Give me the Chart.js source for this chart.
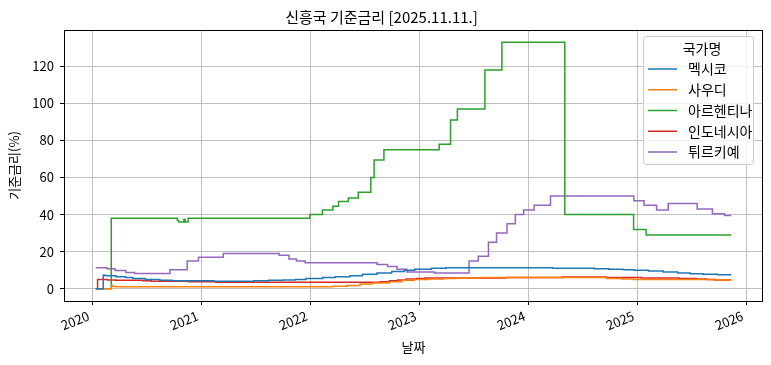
<!DOCTYPE html>
<html lang="ko">
<head>
<meta charset="utf-8">
<title>신흥국 기준금리</title>
<script src="https://cdn.jsdelivr.net/npm/chart.js@4.4.1/dist/chart.umd.min.js"></script>
<style>
  body { margin: 0; background: #fff; }
  canvas { display: block; }
</style>
</head>
<body>
<canvas id="grafico" width="771" height="365"></canvas>
<script>
// 국가별 기준금리 변경일 / 값 (변경일부터 다음 변경일까지 유지)
const paises = ["멕시코", "사우디", "아르헨티나", "인도네시아", "튀르키예"];
const colores = ["#1f77b4", "#ff7f0e", "#2ca02c", "#d62728", "#9467bd"];

const fechasMexico = ["2020-01-12", "2020-02-06", "2020-02-14", "2020-03-20", "2020-04-21", "2020-05-15", "2020-06-26", "2020-08-14", "2020-09-25", "2021-02-12", "2021-06-25", "2021-08-13", "2021-10-01", "2021-11-12", "2021-12-17", "2022-02-11", "2022-03-25", "2022-05-13", "2022-06-24", "2022-08-12", "2022-09-30", "2022-11-11", "2022-12-16", "2023-02-10", "2023-03-31", "2024-03-22", "2024-08-09", "2024-09-27", "2024-11-15", "2024-12-20", "2025-02-07", "2025-03-28", "2025-05-16", "2025-06-27", "2025-08-08", "2025-09-26", "2025-11-11"];
const tasasMexico = [0, 7.25, 7.0, 6.5, 6.0, 5.5, 5.0, 4.5, 4.25, 4.0, 4.25, 4.5, 4.75, 5.0, 5.5, 6.0, 6.5, 7.0, 7.75, 8.5, 9.25, 10.0, 10.5, 11.0, 11.25, 11.0, 10.75, 10.5, 10.25, 10.0, 9.5, 9.0, 8.5, 8.0, 7.75, 7.5, 7.5];

const fechasSaudi = ["2020-01-12", "2020-03-05", "2020-03-08", "2020-03-17", "2022-03-17", "2022-05-05", "2022-06-16", "2022-07-28", "2022-09-22", "2022-11-03", "2022-12-15", "2023-02-02", "2023-03-23", "2023-05-04", "2023-07-27", "2024-09-19", "2024-11-08", "2024-12-19", "2025-09-18", "2025-10-30", "2025-11-11"];
const tasasSaudi = [0, 1.75, 1.25, 1.0, 1.25, 1.75, 2.5, 3.0, 3.75, 4.5, 5.0, 5.25, 5.5, 5.75, 6.0, 5.5, 5.25, 5.0, 4.75, 4.5, 4.5];

const fechasArgentina = ["2020-01-12", "2020-03-04", "2020-10-12", "2020-10-16", "2020-11-03", "2020-11-07", "2020-11-17", "2021-12-30", "2022-02-10", "2022-03-17", "2022-04-05", "2022-05-08", "2022-06-10", "2022-07-22", "2022-08-02", "2022-09-04", "2023-03-08", "2023-04-15", "2023-05-08", "2023-08-08", "2023-10-04", "2024-05-02", "2024-12-19", "2025-01-30", "2025-11-11"];
const tasasArgentina = [0, 38, 37, 36, 37.5, 36, 38, 40, 42.5, 44.5, 47, 49, 52, 60, 69.5, 75, 78, 91, 97, 118, 133, 40, 32, 29, 29];

const fechasIndonesia = ["2020-01-12", "2020-01-18", "2020-02-20", "2020-03-19", "2020-06-18", "2020-07-16", "2020-11-19", "2021-02-18", "2022-08-23", "2022-09-22", "2022-10-20", "2022-11-17", "2022-12-22", "2023-01-19", "2023-10-19", "2024-04-24", "2024-09-18", "2025-01-15", "2025-05-21", "2025-07-16", "2025-08-20", "2025-09-17", "2025-11-11"];
const tasasIndonesia = [0, 5.0, 4.75, 4.5, 4.25, 4.0, 3.75, 3.5, 3.75, 4.25, 4.75, 5.25, 5.5, 5.75, 6.0, 6.25, 6.0, 5.75, 5.5, 5.25, 5.0, 4.75, 4.75];

const fechasTurquia = ["2020-01-12", "2020-02-19", "2020-03-17", "2020-04-22", "2020-05-21", "2020-09-17", "2020-11-14", "2020-12-22", "2021-03-15", "2021-09-18", "2021-10-21", "2021-11-15", "2021-12-14", "2022-08-12", "2022-09-16", "2022-10-18", "2022-11-20", "2023-02-20", "2023-06-16", "2023-07-17", "2023-08-20", "2023-09-16", "2023-10-21", "2023-11-18", "2023-12-16", "2024-01-20", "2024-03-15", "2024-12-20", "2025-01-23", "2025-03-06", "2025-04-14", "2025-07-20", "2025-09-09", "2025-10-20", "2025-11-11"];
const tasasTurquia = [11.25, 10.75, 9.75, 8.75, 8.25, 10.25, 15, 17, 19, 18, 16, 15, 14, 13, 12, 10.5, 9, 8.5, 15, 17.5, 25, 30, 35, 40, 42.5, 45, 50, 47.5, 45, 42.5, 46, 43, 40.5, 39.5, 39.5];

const ticksY = [0, 20, 40, 60, 80, 100, 120];
const ticksX = [2020, 2021, 2022, 2023, 2024, 2025, 2026];

const fuente = "'Noto Sans CJK KR', 'Noto Sans', sans-serif";

// 날짜 문자열 -> 소수 연도
const aAnio = (texto) => {
  const d = new Date(texto + "T00:00:00Z");
  const y = d.getUTCFullYear();
  const ini = Date.UTC(y, 0, 1);
  const fin = Date.UTC(y + 1, 0, 1);
  return y + (d.getTime() - ini) / (fin - ini);
};

const armarSerie = (fechas, tasas) =>
  fechas.map((f, i) => ({ x: aAnio(f), y: tasas[i] }));

const series = [
  armarSerie(fechasMexico, tasasMexico),
  armarSerie(fechasSaudi, tasasSaudi),
  armarSerie(fechasArgentina, tasasArgentina),
  armarSerie(fechasIndonesia, tasasIndonesia),
  armarSerie(fechasTurquia, tasasTurquia),
];

// 5% 여백 (matplotlib 기본)
const todosX = series.flat().map((p) => p.x);
const todosY = series.flat().map((p) => p.y);
const xMin = Math.min(...todosX), xMax = Math.max(...todosX);
const yMin = Math.min(...todosY), yMax = Math.max(...todosY);
const mx = (xMax - xMin) * 0.05, my = (yMax - yMin) * 0.05;

// 축 테두리 (네 면)
const marco = {
  id: "marco",
  afterDatasetsDraw(chart) {
    const { ctx, chartArea: a } = chart;
    ctx.save();
    ctx.strokeStyle = "#000";
    ctx.lineWidth = 1;
    ctx.strokeRect(Math.round(a.left) + 0.5, Math.round(a.top) + 0.5, Math.round(a.right - a.left) - 1, Math.round(a.bottom - a.top));
    ctx.restore();
  },
};

// matplotlib 스타일 범례
const leyenda = {
  id: "leyenda",
  afterDraw(chart) {
    const { ctx, chartArea: a } = chart;
    const w = 110, h = 128;
    const bx = a.right - 10 - w, by = a.top + 6;
    ctx.save();
    ctx.beginPath();
    ctx.roundRect(bx + 0.5, by + 0.5, w, h, 3);
    ctx.fillStyle = "rgba(255,255,255,0.8)";
    ctx.fill();
    ctx.strokeStyle = "#cccccc";
    ctx.lineWidth = 1;
    ctx.stroke();
    ctx.fillStyle = "#000";
    ctx.font = "14px " + fuente;
    ctx.textBaseline = "middle";
    ctx.textAlign = "center";
    ctx.fillText("국가명", bx + w / 2 + 4, by + 13);
    ctx.textAlign = "left";
    chart.data.datasets.forEach((ds, i) => {
      const yy = by + 33 + i * 20.75;
      ctx.strokeStyle = ds.borderColor;
      ctx.lineWidth = 1.5;
      ctx.beginPath();
      ctx.moveTo(bx + 5, yy);
      ctx.lineTo(bx + 34, yy);
      ctx.stroke();
      ctx.fillStyle = "#000";
      ctx.fillText(ds.label, bx + 45, yy);
    });
    ctx.restore();
  },
};

const ctx = document.getElementById("grafico");

new Chart(ctx, {
  type: "line",
  data: {
    datasets: paises.map((p, i) => ({
      label: p,
      data: series[i],
      borderColor: colores[i],
      backgroundColor: colores[i],
      borderWidth: 1.5,
      pointRadius: 0,
      stepped: "before",
      fill: false,
    })),
  },
  options: {
    responsive: false,
    animation: false,
    devicePixelRatio: 1,
    layout: { padding: { left: 0, right: 8, top: 0, bottom: 0 } },
    plugins: {
      legend: { display: false },
      tooltip: { enabled: false },
      title: {
        display: true,
        text: "신흥국 기준금리 [2025.11.11.]",
        color: "#000",
        font: { family: fuente, size: 15, weight: "normal" },
        padding: { top: 8, bottom: 4 },
      },
    },
    scales: {
      x: {
        type: "linear",
        min: xMin - mx,
        max: xMax + mx,
        afterFit: (s) => { s.height = 64; },
        afterBuildTicks: (s) => { s.ticks = ticksX.map((v) => ({ value: v })); },
        ticks: {
          callback: (v) => String(v),
          autoSkip: false,
          minRotation: 22,
          maxRotation: 22,
          labelOffset: -4,
          color: "#000",
          padding: 3,
          font: { family: fuente, size: 13 },
        },
        grid: { color: "#b0b0b0", lineWidth: 0.8, tickLength: 4, tickColor: "#000", tickWidth: 1 },
        border: { display: false },
        title: {
          display: true,
          text: "날짜",
          color: "#000",
          font: { family: fuente, size: 13 },
          padding: { top: 10, bottom: 10 },
        },
      },
      y: {
        min: yMin - my,
        max: yMax + my,
        afterFit: (s) => { s.width = 64; },
        afterBuildTicks: (s) => { s.ticks = ticksY.map((v) => ({ value: v })); },
        ticks: {
          color: "#000",
          padding: 6,
          font: { family: fuente, size: 13 },
        },
        grid: { color: "#b0b0b0", lineWidth: 0.8, tickLength: 4, tickColor: "#000", tickWidth: 1 },
        border: { display: false },
        title: {
          display: true,
          text: "기준금리(%)",
          color: "#000",
          font: { family: fuente, size: 13 },
          padding: { top: 6, bottom: 6 },
        },
      },
    },
  },
  plugins: [marco, leyenda],
});
</script>
</body>
</html>
